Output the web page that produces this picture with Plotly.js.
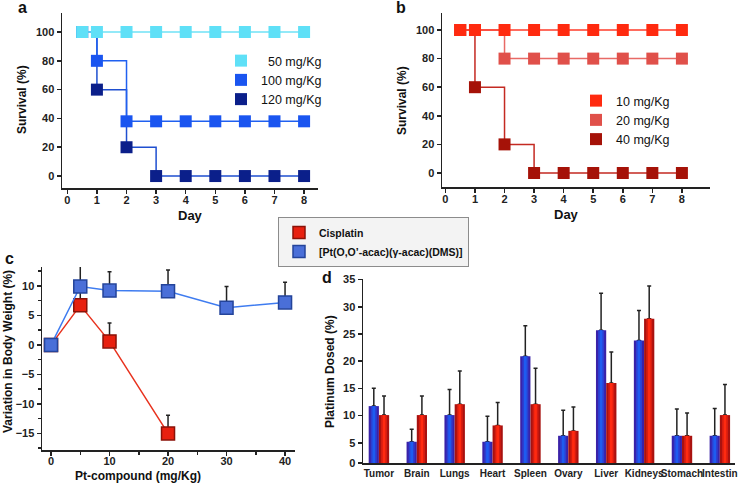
<!DOCTYPE html>
<html>
<head>
<meta charset="utf-8">
<script src="https://cdn.plot.ly/plotly-3.0.1.min.js"></script>
<style>
  html, body { margin: 0; padding: 0; background: #fff; }
  #chart { width: 745px; height: 483px; }
</style>
</head>
<body>
<div id="chart"></div>
<script>
// panel a / b: survival (%) per day
const days = [0.5, 1, 2, 3, 4, 5, 6, 7, 8];
const survA50 = [100, 100, 100, 100, 100, 100, 100, 100, 100];
const survA100 = [100, 80, 38, 38, 38, 38, 38, 38, 38];
const survA120 = [100, 60, 20, 0, 0, 0, 0, 0, 0];
const survB10 = [100, 100, 100, 100, 100, 100, 100, 100, 100];
const survB20 = [100, 100, 80, 80, 80, 80, 80, 80, 80];
const survB40 = [100, 60, 20, 0, 0, 0, 0, 0, 0];

// panel c: body weight variation (%)
const doseCis = [0, 5, 10, 20];
const weightCis = [0, 6.7, 0.6, -15];
const errCis = [0, 3, 3.1, 3.1];
const dosePt = [0, 5, 10, 20, 30, 40];
const weightPt = [0, 9.9, 9.2, 9.1, 6.3, 7.2];
const errPt = [0, 3.5, 3.2, 3.6, 3.6, 3.4];

// panel d: platinum dosed (%)
const organs = ['Tumor', 'Brain', 'Lungs', 'Heart', 'Spleen', 'Ovary', 'Liver', 'Kidneys', 'Stomach', 'Intestin'];
const platPt = [11.75, 5.2, 10.1, 5.2, 20.9, 6.3, 25.7, 23.8, 6.3, 6.3];
const platPtErr = [3.3, 2.3, 4.7, 4.7, 5.6, 4.7, 6.8, 5.5, 4.9, 5.0];
const platCis = [10.1, 10.1, 12.1, 8.2, 12.1, 7.2, 16.0, 27.8, 6.3, 10.1];
const platCisErr = [3.5, 3.5, 6.1, 4.2, 6.6, 4.4, 5.7, 6.0, 4.2, 5.6];

const FONT = 'Liberation Sans, Arial, sans-serif';
const INK = '#222';
const W = 745, H = 483;
const px = v => v / W;
const py = v => 1 - v / H;

function axisStyle(extra) {
    return Object.assign({
        showline: true,
        linecolor: INK,
        linewidth: 1.5,
        ticks: 'outside',
        ticklen: 4,
        tickwidth: 1.5,
        tickcolor: INK,
        showgrid: false,
        zeroline: false,
        fixedrange: true,
        tickfont: { family: FONT, size: 11, color: INK, weight: 'bold' }
    }, extra);
}

function stepTrace(y, lineColor, markerColor, xa, ya) {
    return {
        x: days, y: y, xaxis: xa, yaxis: ya,
        mode: 'lines+markers',
        line: { shape: 'hv', color: lineColor, width: 1.5 },
        marker: { symbol: 'square', size: 12, color: markerColor },
        showlegend: false, hoverinfo: 'skip'
    };
}

function legendSquare(name, color, legend, border) {
    return {
        x: [null], y: [null], name: name, legend: legend,
        mode: 'markers',
        marker: { symbol: 'square', size: 12, color: color, line: { color: border || color, width: border ? 1.5 : 0 } },
        hoverinfo: 'skip'
    };
}

const traces = [];

// a
traces.push(stepTrace(survA120, '#1f4fd0', '#0b1f8a', 'x', 'y'));
traces.push(stepTrace(survA100, '#2060f0', '#1a55f0', 'x', 'y'));
traces.push(stepTrace(survA50, '#6fe2f6', '#5fe0f7', 'x', 'y'));
traces.push(legendSquare('\u00a0\u00a050 mg/Kg', '#5fe0f7', 'legend2'));
traces.push(legendSquare('100 mg/Kg', '#1a55f0', 'legend2'));
traces.push(legendSquare('120 mg/Kg', '#0b1f8a', 'legend2'));

// b
traces.push(stepTrace(survB40, '#c42a22', '#a51208', 'x2', 'y2'));
traces.push(stepTrace(survB20, '#e86a66', '#e0504a', 'x2', 'y2'));
traces.push(stepTrace(survB10, '#ff3b2a', '#ff2a0f', 'x2', 'y2'));
traces.push(legendSquare('10 mg/Kg', '#ff2a0f', 'legend3'));
traces.push(legendSquare('20 mg/Kg', '#e0504a', 'legend3'));
traces.push(legendSquare('40 mg/Kg', '#a51208', 'legend3'));

// c
function weightTrace(x, y, err, lineColor, fill, border) {
    return {
        x: x, y: y, xaxis: 'x3', yaxis: 'y3',
        mode: 'lines+markers',
        line: { color: lineColor, width: 1.5 },
        marker: { symbol: 'square', size: 13, color: fill, line: { color: border, width: 1.5 } },
        error_y: { type: 'data', symmetric: false, array: err, arrayminus: err.map(() => 0), color: INK, thickness: 1.5, width: 2 },
        showlegend: false, hoverinfo: 'skip'
    };
}
traces.push(weightTrace(doseCis, weightCis, errCis, '#e8321e', '#e8200f', '#8a1208'));
traces.push(weightTrace(dosePt, weightPt, errPt, '#3f7cf0', '#4a6fd8', '#24449a'));
traces.push(legendSquare('Cisplatin', '#e8200f', 'legend', '#8a1208'));
traces.push(legendSquare('[Pt(O,O’-acac)(γ-acac)(DMS)]', '#4a6fd8', 'legend', '#24449a'));

// d: bars drawn in layers to mimic the shaded bars of the original
const BW = 0.27;
function barLayer(y, color, width, center, err) {
    const t = {
        type: 'bar', x: organs, y: y, xaxis: 'x4', yaxis: 'y4',
        width: width, offset: center - width / 2,
        marker: { color: color, line: { width: 0 } },
        showlegend: false, hoverinfo: 'skip'
    };
    if (err) {
        t.error_y = { type: 'data', symmetric: false, array: err, arrayminus: err.map(() => 0), color: INK, thickness: 1.5, width: 2 };
    }
    return t;
}
traces.push(barLayer(platPt, '#3a22a8', BW, -BW / 2, platPtErr));
traces.push(barLayer(platPt, '#2c3fd2', 0.16, -BW / 2));
traces.push(barLayer(platPt, '#1e5cf0', 0.07, -BW / 2));
traces.push(barLayer(platCis, '#a81210', BW, BW / 2, platCisErr));
traces.push(barLayer(platCis, '#d61c10', 0.16, BW / 2));
traces.push(barLayer(platCis, '#ff2a10', 0.07, BW / 2));

function label(text, x, y, size, angle) {
    return {
        text: text, x: px(x), y: py(y), xref: 'paper', yref: 'paper',
        xanchor: 'center', yanchor: 'middle', showarrow: false,
        textangle: angle || 0,
        font: { family: FONT, size: size, color: '#111', weight: 'bold' }
    };
}

const layout = {
    width: W, height: H,
    margin: { l: 0, r: 0, t: 0, b: 0, autoexpand: false },
    paper_bgcolor: '#fff',
    plot_bgcolor: 'rgba(0,0,0,0)',
    barmode: 'overlay',
    xaxis: axisStyle({ domain: [px(62), px(318)], anchor: 'y', range: [-0.18, 8.47], tickvals: [0, 1, 2, 3, 4, 5, 6, 7, 8], ticklabelstandoff: -3 }),
    yaxis: axisStyle({ domain: [py(188), py(13)], anchor: 'x', range: [-8.3, 113.2], tickvals: [0, 20, 40, 60, 80, 100] }),
    xaxis2: axisStyle({ domain: [px(442), px(710)], anchor: 'y2', range: [-0.115, 8.95], tickvals: [0, 1, 2, 3, 4, 5, 6, 7, 8], ticklabelstandoff: -3 }),
    yaxis2: axisStyle({ domain: [py(187), py(13)], anchor: 'x2', range: [-9.8, 111.9], tickvals: [0, 20, 40, 60, 80, 100] }),
    xaxis3: axisStyle({ domain: [px(42), px(295)], anchor: 'y3', range: [-1.54, 41.7], tickvals: [0, 10, 20, 30, 40], ticklabelstandoff: -4,
        minor: { ticks: 'outside', ticklen: 3, tickwidth: 1.5, tickcolor: INK, dtick: 5, tick0: 0 } }),
    yaxis3: axisStyle({ domain: [py(450), py(267)], anchor: 'x3', range: [-17.8, 13.2], tickvals: [-15, -10, -5, 0, 5, 10],
        minor: { ticks: 'outside', ticklen: 3, tickwidth: 1.5, tickcolor: INK, dtick: 2.5, tick0: 0 } }),
    xaxis4: axisStyle({ domain: [px(363), px(735)], anchor: 'y4', type: 'category', range: [-0.42, 9.4], ticks: '', tickangle: 0,
        tickfont: { family: FONT, size: 10, color: INK, weight: 'bold' } }),
    yaxis4: axisStyle({ domain: [py(463), py(279)], anchor: 'x4', range: [1.3, 35.1],
        tickvals: [1.3, 5, 10, 15, 20, 25, 30, 35], ticktext: ['0', '5', '10', '15', '20', '25', '30', '35'] }),
    legend: {
        x: px(278), y: py(217), xanchor: 'left', yanchor: 'top',
        bgcolor: '#f3f3f3', bordercolor: '#8c8c8c', borderwidth: 1,
        itemwidth: 30, tracegroupgap: 0,
        font: { family: FONT, size: 10.5, color: '#111', weight: 'bold' }
    },
    legend2: {
        x: px(221), y: py(46), xanchor: 'left', yanchor: 'top',
        bgcolor: 'rgba(0,0,0,0)', itemwidth: 30,
        font: { family: FONT, size: 12.5, color: '#111' }
    },
    legend3: {
        x: px(576), y: py(86), xanchor: 'left', yanchor: 'top',
        bgcolor: 'rgba(0,0,0,0)', itemwidth: 30,
        font: { family: FONT, size: 12.5, color: '#111' }
    },
    annotations: [
        label('a', 22, 8, 16),
        label('b', 401, 8, 16),
        label('c', 9, 258, 16),
        label('d', 327, 277, 16),
        label('Survival (%)', 22, 100, 12, -90),
        label('Survival (%)', 402, 100, 12, -90),
        label('Day', 190, 216, 13),
        label('Day', 566, 214, 13),
        label('Variation in Body Weight (%)', 8, 352, 12, -90),
        label('Pt-compound (mg/Kg)', 138, 476, 12),
        label('Platinum Dosed (%)', 330, 372, 12, -90)
    ]
};

Plotly.newPlot('chart', traces, layout, { displayModeBar: false, staticPlot: true });
</script>
</body>
</html>
